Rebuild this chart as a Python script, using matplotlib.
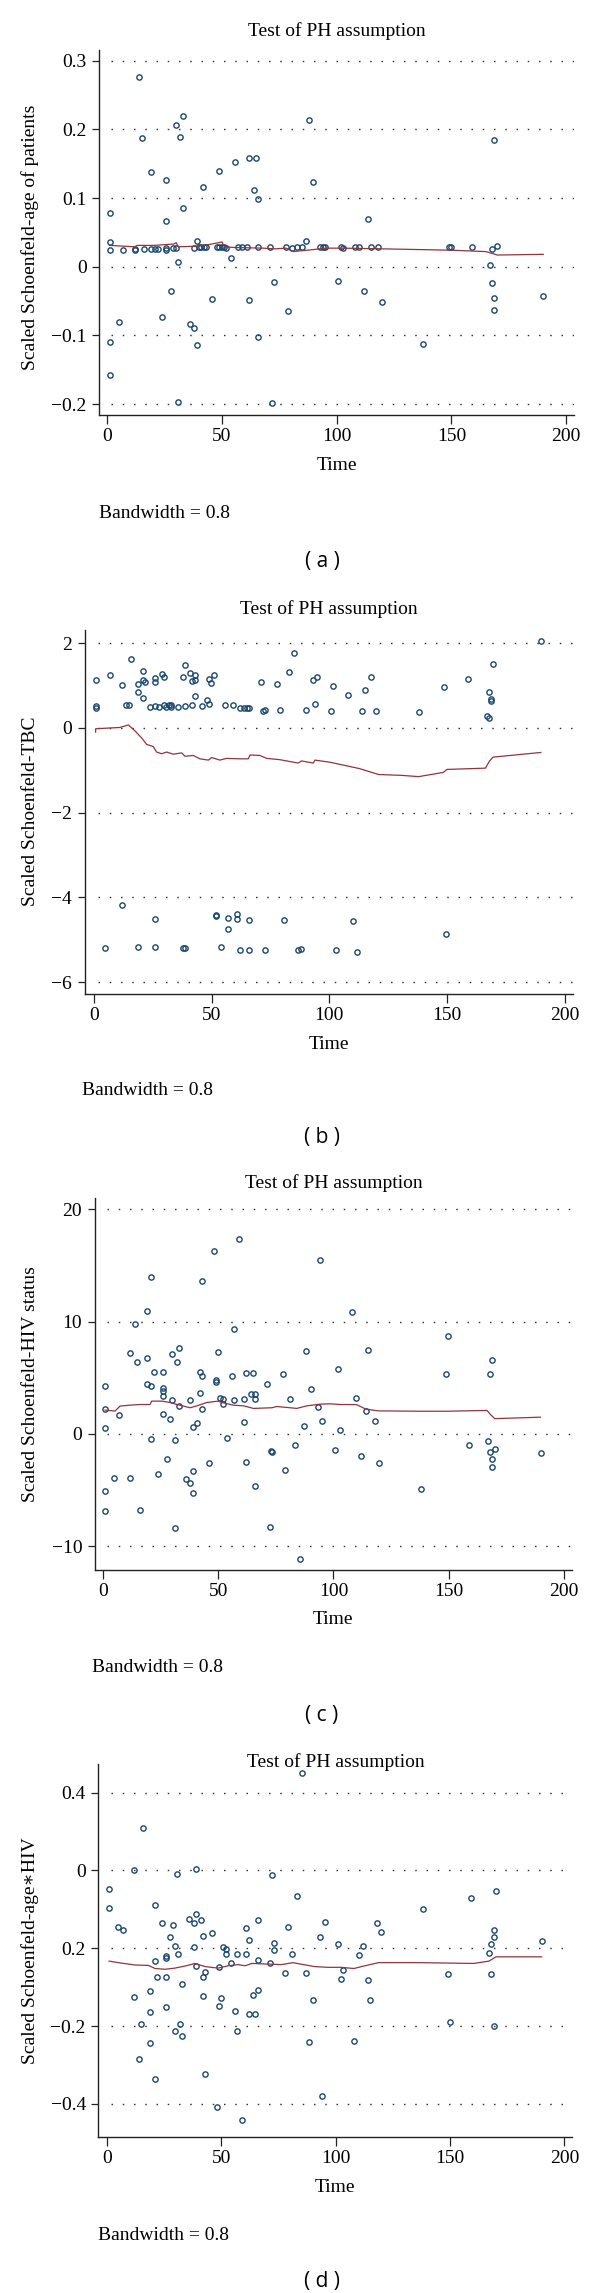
import matplotlib
matplotlib.use("Agg")
import matplotlib.pyplot as plt

W, H = 600, 2293
SERIF = ["Liberation Serif", "DejaVu Serif"]
MARKER_COLOR = "#1a476f"
LINE_COLOR = "#90353b"
FS = 14

# ---- panel (a): age of patients ----
a_time = [13.8, 15.0, 29.8, 32.8, 31.8, 19.0, 25.7, 48.8, 55.8, 61.8,
          64.8, 87.8, 89.7, 41.9, 63.8, 65.8, 1.0, 25.7, 32.8, 1.0,
          1.0, 7.0, 11.9, 12.1, 16.0, 18.9, 20.9, 21.9, 25.7, 25.7,
          28.5, 29.8, 30.7, 27.9, 23.8, 4.9, 1.0, 1.0, 30.8, 35.9,
          37.9, 38.9, 45.8, 38.9, 37.9, 40.0, 41.0, 42.0, 43.0, 47.7,
          48.8, 49.9, 50.9, 51.9, 53.8, 56.8, 58.9, 60.8, 65.8, 61.8,
          70.8, 72.8, 71.8, 65.8, 78.6, 77.8, 80.7, 82.7, 84.7, 86.8,
          92.7, 93.8, 94.8, 100.6, 101.7, 102.9, 107.8, 109.6, 113.8, 114.8,
          117.8, 111.8, 119.7, 137.7, 148.8, 149.8, 158.8, 167.7, 169.7, 168.7,
          166.7, 167.7, 168.7, 168.7, 189.8]
a_resid = [0.277, 0.187, 0.206, 0.219, 0.189, 0.138, 0.126, 0.140, 0.152, 0.159,
           0.159, 0.213, 0.123, 0.116, 0.111, 0.099, 0.078, 0.067, 0.086, 0.036,
           0.025, 0.025, 0.025, 0.026, 0.026, 0.026, 0.026, 0.026, 0.027, 0.025,
           0.027, 0.027, 0.007, -0.036, -0.073, -0.080, -0.109, -0.158, -0.197, -0.083,
           -0.090, -0.114, -0.047, 0.038, 0.027, 0.028, 0.028, 0.028, 0.028, 0.028,
           0.028, 0.028, 0.028, 0.027, 0.013, 0.028, 0.028, 0.028, 0.028, -0.048,
           0.028, -0.023, -0.198, -0.102, -0.064, 0.028, 0.027, 0.028, 0.028, 0.037,
           0.028, 0.028, 0.028, -0.021, 0.028, 0.027, 0.028, 0.028, 0.069, 0.028,
           0.028, -0.035, -0.052, -0.113, 0.028, 0.028, 0.028, 0.026, 0.030, 0.185,
           0.002, -0.024, -0.045, -0.063, -0.043]
a_smooth_t = [1, 12, 13, 20, 29, 30, 31, 40, 44, 50, 51, 55, 68, 73, 78, 81, 84,
              90, 95, 103, 120, 150, 165, 170, 190]
a_smooth = [0.031, 0.029, 0.031, 0.031, 0.033, 0.035, 0.029, 0.030, 0.032, 0.036,
            0.029, 0.028, 0.027, 0.026, 0.027, 0.022, 0.023, 0.025, 0.027, 0.027,
            0.026, 0.024, 0.022, 0.017, 0.018]
a_yticks = [0.3, 0.2, 0.1, 0, -0.1, -0.2]
a_ylabels = ["0.3", "0.2", "0.1", "0", "\u22120.1", "\u22120.2"]

# ---- panel (b): TBC ----
b_time = [0.7, 0.7, 0.7, 6.7, 11.8, 15.7, 13.7, 14.7, 18.8, 18.8,
          20.8, 20.8, 21.8, 20.8, 23.8, 25.8, 25.8, 25.8, 27.8, 28.8,
          29.7, 29.7, 30.7, 31.7, 32.7, 32.7, 35.8, 37.8, 38.8, 38.8,
          40.8, 41.8, 42.8, 42.8, 41.8, 42.9, 45.9, 47.9, 48.9, 48.9,
          49.9, 50.8, 55.8, 58.9, 61.9, 63.9, 64.9, 65.9, 71.0, 71.8,
          72.8, 77.9, 78.9, 83.0, 85.0, 90.1, 93.1, 95.0, 94.0, 101.6,
          100.8, 107.8, 114.0, 115.0, 117.9, 119.8, 138.0, 148.9, 158.9, 166.9,
          167.9, 167.9, 168.8, 168.8, 169.8, 189.9,
          11.8, 4.7, 18.8, 25.8, 25.8, 37.8, 38.8, 51.8, 51.9, 53.8,
          56.9, 56.9, 60.9, 60.9, 61.9, 65.9, 65.9, 72.8, 80.9, 86.8,
          87.8, 102.8, 109.9, 111.9, 149.8]
b_resid = [1.14, 0.52, 0.48, 1.25, 1.02, 1.63, 0.54, 0.53, 1.03, 0.84,
           1.34, 1.14, 1.09, 0.71, 0.50, 1.17, 1.09, 0.52, 0.49, 1.28,
           1.20, 0.53, 0.49, 0.53, 0.54, 0.50, 0.50, 1.21, 1.49, 0.51,
           1.30, 1.11, 1.24, 1.13, 0.53, 0.75, 0.52, 0.65, 0.56, 1.16,
           1.05, 1.24, 0.53, 0.55, 0.48, 0.48, 0.48, 0.48, 1.09, 0.40,
           0.43, 1.04, 0.43, 1.31, 1.76, 0.43, 1.14, 1.21, 0.57, 1.00,
           0.41, 0.77, 0.40, 0.90, 1.19, 0.40, 0.37, 0.96, 1.15, 0.27,
           0.23, 0.84, 0.68, 0.63, 1.51, 2.05,
           -4.18, -5.19, -5.17, -4.50, -5.16, -5.19, -5.19, -4.43, -4.41, -5.17,
           -4.48, -4.75, -4.40, -4.50, -5.23, -4.54, -5.24, -5.24, -4.54, -5.24,
           -5.22, -5.25, -4.56, -5.28, -4.87]
b_smooth_t = [0.7, 0.7, 11, 14.6, 17.4, 20.3, 22.4, 25.2, 26.6, 28.8,
              30.9, 33.7, 37.3, 38.7, 42.2, 45, 48.6, 50, 53.5, 56.3,
              62, 65.6, 66.3, 70.5, 73.4, 79, 86.8, 88.2, 93.2, 93.9,
              100.3, 112.8, 121, 130.7, 138, 148.5, 150, 166.4, 168, 169.6, 189.9]
b_smooth = [-0.10, -0.02, 0.01, 0.07, -0.07, -0.24, -0.39, -0.44, -0.57, -0.61,
            -0.57, -0.62, -0.59, -0.67, -0.65, -0.73, -0.76, -0.70, -0.76, -0.72,
            -0.73, -0.73, -0.64, -0.65, -0.72, -0.75, -0.83, -0.78, -0.83, -0.76,
            -0.81, -0.96, -1.10, -1.12, -1.15, -1.05, -0.98, -0.95, -0.79, -0.69, -0.58]
b_yticks = [2, 0, -2, -4, -6]
b_ylabels = ["2", "0", "\u22122", "\u22124", "\u22126"]

# ---- panel (c): HIV status ----
c_time = [1.0, 1.0, 1.0, 1.0, 1.0, 4.9, 7.1, 12.0, 12.0, 14.0,
          15.0, 16.0, 19.1, 19.1, 19.1, 21.1, 21.1, 22.1, 21.1, 26.0,
          26.0, 26.0, 26.0, 26.0, 24.1, 28.0, 29.0, 30.1, 30.1, 31.1,
          32.1, 33.1, 33.0, 31.1, 36.1, 38.0, 38.0, 39.0, 39.0, 39.0,
          41.0, 42.1, 43.1, 42.1, 43.1, 43.1, 46.1, 48.1, 49.0, 49.0,
          50.0, 51.0, 52.0, 52.0, 54.0, 56.1, 57.1, 57.1, 59.1, 61.1,
          61.1, 62.1, 62.1, 64.2, 65.2, 66.2, 66.2, 66.2, 71.2, 72.3,
          73.1, 73.2, 78.0, 79.2, 81.1, 83.2, 85.3, 87.3, 88.2, 90.2,
          93.4, 94.2, 95.2, 100.8, 101.8, 102.8, 108.0, 109.8, 111.9, 113.9,
          114.9, 117.9, 119.9, 137.9, 148.8, 149.8, 158.9, 166.9, 167.9, 167.9,
          168.9, 168.9, 168.9, 169.9, 189.9]
c_resid = [4.22, 2.17, 0.53, -5.08, -6.89, -3.95, 1.66, 7.16, -3.92, 9.77,
           6.36, -6.77, 10.96, 6.74, 4.40, 13.93, 4.25, 5.52, -0.45, 5.52,
           4.04, 3.80, 3.33, 1.72, -3.56, -2.20, 1.34, 7.10, 3.03, -0.56,
           6.42, 7.60, 2.47, -8.41, -4.04, 3.03, -4.34, 0.59, -3.30, -5.26,
           0.92, 5.52, 5.11, 3.59, 2.17, 13.57, -2.61, 16.28, 4.78, 4.63,
           7.31, 3.15, 3.06, 2.61, -0.33, 5.11, 9.36, 3.03, 17.37, 3.12,
           1.01, 5.41, -2.55, 3.56, 5.41, 3.56, 3.09, -4.63, 4.46, -8.26,
           -1.54, -1.60, 5.29, -3.18, 3.09, -1.04, -11.17, 0.68, 7.40, 4.01,
           2.35, 15.44, 1.13, -1.48, 5.77, 0.30, 10.85, 3.20, -2.01, 2.01,
           7.48, 1.12, -2.64, -4.95, 5.34, 8.67, -0.96, -0.63, 5.31, -1.58,
           6.56, -2.24, -2.93, -1.35, -1.68]
c_smooth_t = [1, 5.3, 7.5, 11.8, 16.2, 20.5, 21.2, 25.6, 29.2, 32.1,
              37.9, 40.8, 45.1, 50.1, 51.6, 56.6, 61, 65.3, 73.3, 75.4,
              81.2, 84.1, 88.4, 94.2, 98.6, 102.9, 110, 113.9, 119.4, 137.6,
              149.2, 166.6, 167.9, 169.9, 189.7]
c_smooth = [2.11, 2.02, 2.47, 2.55, 2.61, 2.61, 2.91, 2.91, 2.79, 2.61,
            2.32, 2.49, 2.79, 2.91, 2.79, 2.55, 2.49, 2.26, 2.32, 2.43,
            2.32, 2.26, 2.49, 2.64, 2.67, 2.61, 2.6, 2.21, 2.04, 2.01,
            2.01, 2.08, 1.75, 1.35, 1.48]
c_yticks = [20, 10, 0, -10]
c_ylabels = ["20", "10", "0", "\u221210"]

# ---- panel (d): age*HIV ----
d_time = [85.1, 15.9, 11.8, 30.8, 38.9, 72.0, 0.9, 0.9, 4.8, 6.9,
          20.8, 23.9, 28.7, 27.7, 29.7, 25.7, 25.7, 30.9, 20.8, 21.9,
          25.7, 11.8, 18.8, 18.8, 25.7, 14.9, 18.8, 13.9, 20.8, 29.9,
          31.9, 32.9, 32.9, 36.0, 37.9, 38.9, 40.9, 37.9, 38.9, 42.0,
          45.9, 41.8, 43.0, 41.8, 43.0, 49.0, 49.0, 50.0, 50.9, 51.9,
          51.9, 54.0, 48.0, 55.8, 56.8, 56.8, 58.9, 60.9, 61.9, 60.9,
          61.9, 63.9, 64.9, 66.0, 66.0, 66.0, 71.1, 73.0, 73.0, 79.0,
          78.0, 81.0, 83.0, 87.0, 88.2, 90.1, 93.1, 95.2, 94.2, 101.2,
          102.2, 103.1, 108.0, 110.0, 112.0, 114.0, 115.0, 118.0, 120.0, 138.0,
          149.0, 150.0, 159.0, 167.0, 168.0, 168.0, 169.0, 169.0, 169.0, 170.0,
          190.0]
d_resid = [0.451, 0.310, 0.200, 0.190, 0.204, 0.188, 0.152, 0.103, 0.055, 0.047,
           0.112, 0.065, 0.060, 0.028, 0.006, -0.021, -0.026, -0.014, -0.033, -0.074,
           -0.074, -0.124, -0.111, -0.163, -0.152, -0.195, -0.243, -0.284, -0.337, -0.213,
           -0.195, -0.225, -0.093, 0.076, 0.065, 0.089, 0.072, 0.004, -0.045, 0.032,
           0.040, -0.074, -0.060, -0.122, -0.323, -0.049, -0.148, -0.128, 0.003, -0.001,
           -0.014, -0.039, -0.408, -0.161, -0.212, -0.014, -0.442, 0.051, 0.020, -0.016,
           -0.169, -0.121, -0.169, 0.073, -0.029, -0.108, -0.037, 0.013, -0.005, 0.055,
           -0.063, -0.016, 0.134, -0.063, -0.240, -0.132, 0.029, 0.068, -0.380, 0.012,
           -0.078, -0.055, -0.238, -0.018, 0.005, -0.081, -0.133, 0.065, 0.041, 0.101,
           -0.066, -0.190, 0.130, -0.012, 0.012, -0.066, 0.048, 0.029, -0.200, 0.147,
           0.019]
d_smooth_t = [0.9, 5, 12.2, 18.1, 21, 25.4, 29.7, 35.4, 38.3, 42.9,
              48.5, 53, 57.3, 60.3, 63.3, 67.6, 76.2, 81.3, 87.8, 90.7,
              96.5, 102.3, 108, 112, 118.7, 137, 160.3, 167, 170, 190]
d_smooth = [-0.033, -0.037, -0.043, -0.044, -0.052, -0.054, -0.051, -0.044, -0.039, -0.047,
            -0.051, -0.045, -0.042, -0.045, -0.039, -0.040, -0.042, -0.037, -0.044, -0.047,
            -0.049, -0.049, -0.052, -0.046, -0.037, -0.037, -0.039, -0.033, -0.022, -0.022]
d_yticks = [0.4, 0.2, 0, -0.2, -0.4]
# tick labels as printed in the original figure
d_ylabels = ["0.4", "0", "0.2", "\u22120.2", "\u22120.4"]

x_ticks = [0, 50, 100, 150, 200]


def fx(px):
    return px / W


def fy(py):
    return 1 - py / H


def draw_panel(fig, rect, xlim, ylim, t, r, st, s, yticks, ylabels, ylabel,
               tag, title_y, time_y, bw_xy, tag_y, ylabel_y):
    left, top, right, bottom = rect
    ax = fig.add_axes([fx(left), fy(bottom), (right - left) / W, (bottom - top) / H])
    ax.set_xlim(*xlim)
    ax.set_ylim(*ylim)
    ax.set_facecolor("none")

    # dotted grid lines
    ax.hlines(yticks, 1.8, xlim[1], colors="#333333", linestyles=(0, (1.1, 7.0)),
              linewidth=1.0, zorder=1)

    ax.plot(t, r, "o", mfc="none", mec=MARKER_COLOR, ms=3.8, mew=1.0, zorder=2)
    ax.plot(st, s, "-", color=LINE_COLOR, lw=0.9, zorder=3)

    for side in ["top", "right"]:
        ax.spines[side].set_visible(False)
    for side in ["left", "bottom"]:
        ax.spines[side].set_linewidth(1.0)
        ax.spines[side].set_color("#222222")

    ax.set_xticks(x_ticks)
    ax.set_xticklabels([str(v) for v in x_ticks], family=SERIF, fontsize=FS)
    ax.set_yticks(yticks)
    ax.set_yticklabels(ylabels, family=SERIF, fontsize=FS)
    ax.tick_params(axis="x", direction="out", length=6.5, width=0.9,
                   color="#222222", pad=3.0)
    ax.tick_params(axis="y", direction="out", length=5.0, width=0.9,
                   color="#222222", pad=4.0)

    cx = (left + right) / 2
    fig.text(fx(cx), fy(title_y), "Test of PH assumption", family=SERIF,
             fontsize=FS, ha="center", va="center")
    fig.text(fx(cx), fy(time_y), "Time", family=SERIF, fontsize=FS,
             ha="center", va="center")
    fig.text(fx(bw_xy[0]), fy(bw_xy[1]), "Bandwidth = 0.8", family=SERIF,
             fontsize=FS, ha="left", va="center")
    fig.text(fx(30.5), fy(ylabel_y), ylabel, family=SERIF, fontsize=FS,
             rotation=90, ha="center", va="center")
    fig.text(fx(322), fy(tag_y), "( %s )" % tag, family=["Open Sans", "DejaVu Sans"],
             fontsize=15, ha="center", va="center")
    return ax


fig = plt.figure(figsize=(W / 100, H / 100), dpi=100)

draw_panel(fig, (99, 50, 574, 415), (-3.6, 203.4), (-0.216, 0.3156),
           a_time, a_resid, a_smooth_t, a_smooth, a_yticks, a_ylabels,
           "Scaled Schoenfeld-age of patients", "a",
           31, 466, (99, 514), 562, 237)
draw_panel(fig, (84.7, 630, 573, 993.6), (-3.95, 203.6), (-6.27, 2.31),
           b_time, b_resid, b_smooth_t, b_smooth, b_yticks, b_ylabels,
           "Scaled Schoenfeld-TBC", "b",
           609, 1044, (82, 1090), 1137, 811)
draw_panel(fig, (94.7, 1198, 572, 1570), (-3.5, 203.4), (-12.13, 21.0),
           c_time, c_resid, c_smooth_t, c_smooth, c_yticks, c_ylabels,
           "Scaled Schoenfeld-HIV status", "c",
           1183, 1620, (92, 1668), 1715, 1384)
draw_panel(fig, (98.3, 1764, 572.5, 2137), (-3.8, 203.5), (-0.485, 0.4735),
           d_time, d_resid, d_smooth_t, d_smooth, d_yticks, d_ylabels,
           "Scaled Schoenfeld-age\u2217HIV", "d",
           1762, 2188, (98, 2235), 2282, 1951)

fig.savefig("out.png", dpi=100, facecolor="white")
